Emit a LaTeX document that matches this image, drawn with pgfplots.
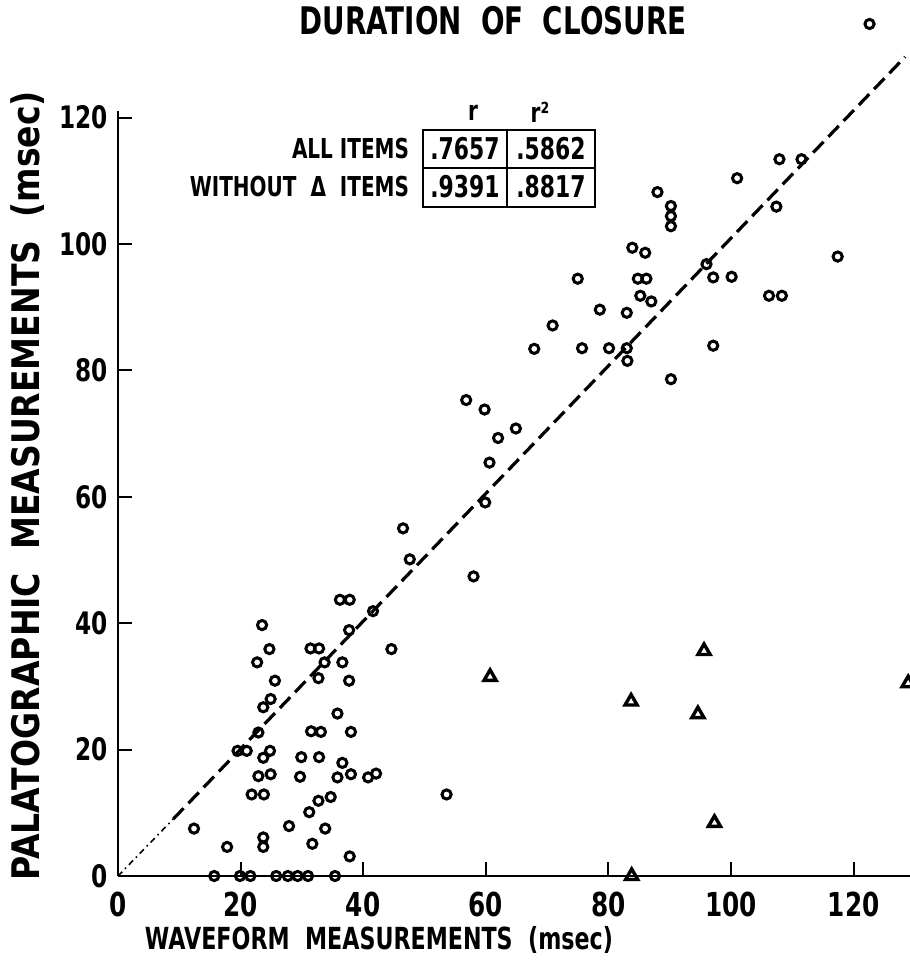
\documentclass[border=0pt]{standalone}
\usepackage{fontspec}
\setmainfont{DejaVu Sans}[FakeStretch=0.73]
\newfontfamily\tickfont{DejaVu Sans}[FakeStretch=0.75]
\newfontfamily\widefont{DejaVu Sans}[FakeStretch=0.87]
\usepackage{pgfplots}
\pgfplotsset{compat=1.18}

\begin{document}
\begin{tikzpicture}
\useasboundingbox (-59pt,-44pt) rectangle (396pt,438pt);
\begin{axis}[
    scale only axis,
    width=396pt, height=382.4pt,
    xmin=0, xmax=129.2,
    ymin=0, ymax=121,
    axis lines=left,
    axis line style={-, line width=1.2pt},
    clip=false,
    tick align=inside,
    major tick length=7pt,
    tick style={line width=1pt, black},
    xtick={0,20,...,120},
    ytick={0,20,...,120},
    ticklabel style={inner sep=0pt},
    xticklabel style={font=\tickfont\bfseries\fontsize{16.5}{16.5}\selectfont, yshift=-8pt},
    yticklabel style={font=\tickfont\bfseries\fontsize{15.5}{15.5}\selectfont, xshift=-5pt},
    /pgf/number format/assume math mode=true,
]
% the y = x reference line
\addplot[line width=0.8pt, dash dot] coordinates {(0,0) (9,9)};
\addplot[line width=1.6pt, dash pattern=on 7.5pt off 3.5pt] coordinates {(9,9) (128.4,129.6)};

% circles
\addplot[only marks, mark=o, mark size=2.3pt, line width=1.5pt] coordinates {
(23.5,39.7) (24.7,35.9) (22.7,33.8) (25.6,30.9) (24.9,28.0) (23.7,26.7)
(22.9,22.7) (19.5,19.8) (21.0,19.8) (24.8,19.8) (23.7,18.7) (22.9,15.8)
(24.9,16.1) (21.8,12.9) (23.8,12.9) (12.4,7.5) (17.8,4.6) (23.7,6.1)
(23.7,4.6) (27.9,7.9) (31.2,10.1) (31.7,5.1) (33.8,7.5) (32.7,11.9)
(34.7,12.5) (37.8,3.1) (29.9,18.8) (29.7,15.7) (32.8,18.8) (35.8,15.6)
(36.6,17.9) (38.0,16.1) (40.8,15.6) (42.1,16.2) (31.5,22.9) (33.1,22.8)
(38.0,22.8) (35.8,25.7) (37.7,30.9) (32.7,31.3) (33.7,33.8) (36.6,33.8)
(31.4,36.0) (32.8,36.0) (37.7,38.9) (41.6,41.9) (44.6,35.9) (36.2,43.7)
(37.8,43.7)
(15.7,0) (19.9,0) (21.6,0) (25.8,0) (27.7,0) (29.3,0) (31.0,0) (35.4,0)
(46.5,55.0) (47.6,50.1) (58.0,47.4) (59.9,59.1) (60.6,65.4) (62.0,69.3)
(64.9,70.8) (59.8,73.8) (56.8,75.3) (67.9,83.4) (70.9,87.1) (75.0,94.5)
(75.7,83.5) (78.6,89.6) (80.1,83.5) (83.0,89.1) (83.0,83.5) (83.1,81.5)
(84.8,94.5) (86.2,94.5) (85.2,91.8) (87.0,90.9) (83.9,99.4) (86.0,98.6)
(88.0,108.2) (90.2,106.0) (90.2,104.4) (90.2,102.8) (90.2,78.6) (96.0,96.8)
(97.1,94.7) (100.1,94.8) (97.1,83.9) (101.0,110.4) (107.4,105.9) (107.9,113.4)
(111.5,113.4) (106.2,91.8) (108.3,91.8) (117.4,98.0) (122.6,134.8) (53.6,12.9)
};

% triangles
\addplot[only marks, mark=triangle, mark size=3.5pt, line width=1.7pt] coordinates {
(60.7,31.5) (83.7,27.6) (95.6,35.6) (94.6,25.6) (97.3,8.4) (83.8,0) (128.9,30.5)
};
\end{axis}

% titles and labels
\node[anchor=base, font=\bfseries\fontsize{19}{19}\selectfont] at (187.5pt,420.5pt)
    {DURATION\ \ OF\ \ CLOSURE};
\node[anchor=base, font=\bfseries\fontsize{15.2}{15.2}\selectfont] at (130.5pt,-36.5pt)
    {WAVEFORM\ \ MEASUREMENTS\ \ (msec)};
\node[anchor=base, rotate=90, font=\widefont\bfseries\fontsize{19}{19}\selectfont] at (-39pt,195pt)
    {PALATOGRAPHIC\ \ MEASUREMENTS\ \ (msec)};

% correlation table
\begin{scope}[font=\bfseries\fontsize{13.7}{13.7}\selectfont, line width=1pt]
\draw (152.5pt,373pt) rectangle ++(86pt,-38.5pt);
\draw (194.5pt,373pt) -- ++(0,-38.5pt);
\draw (152.5pt,354pt) -- ++(86pt,0);
\node[anchor=east, inner sep=0pt] at (146pt,363.5pt) {ALL\ ITEMS};
\node[anchor=east, inner sep=0pt] at (146pt,344.5pt) {WITHOUT\ \ Δ\ \ ITEMS};
\begin{scope}[font=\bfseries\fontsize{15}{15}\selectfont]
\node at (173.5pt,363.5pt) {.7657};
\node at (216.5pt,363.5pt) {.5862};
\node at (173.5pt,344.5pt) {.9391};
\node at (216.5pt,344.5pt) {.8817};
\end{scope}
\node at (177.5pt,381.5pt) {r};
\node at (211pt,382pt) {r²};
\end{scope}
\end{tikzpicture}
\end{document}
